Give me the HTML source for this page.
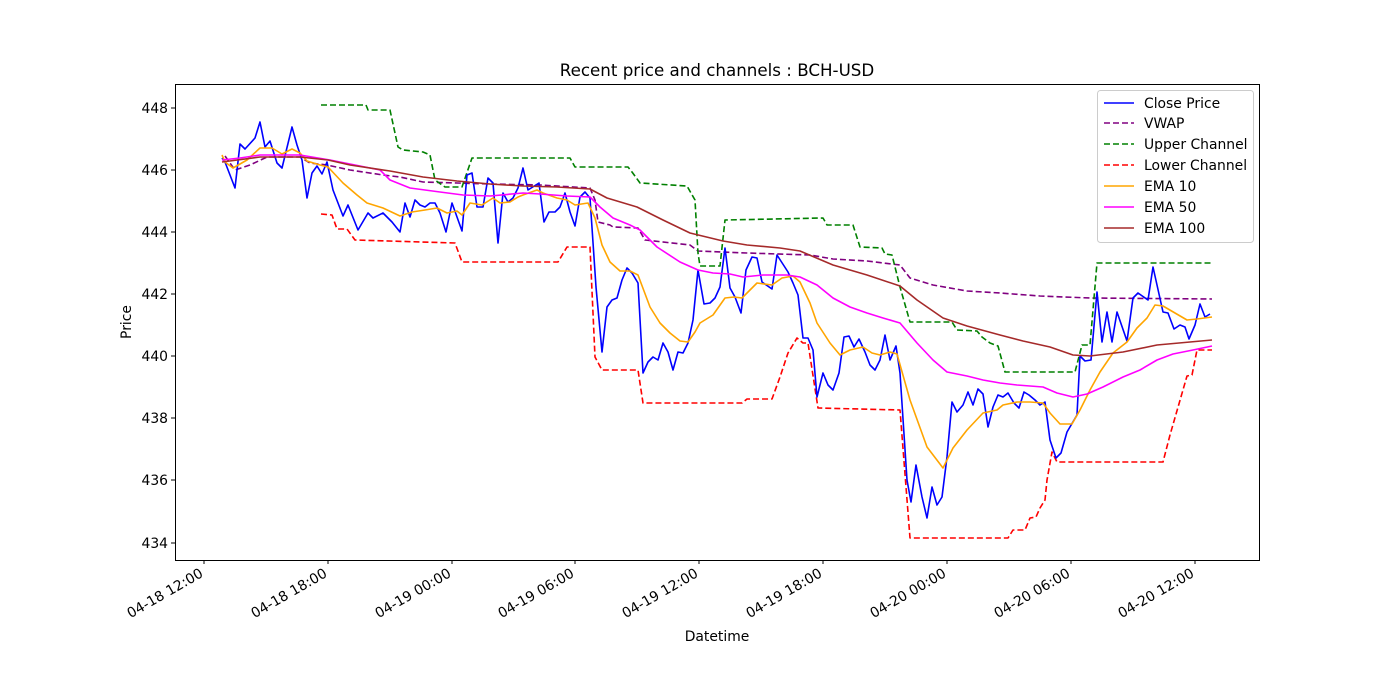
<!DOCTYPE html>
<html><head><meta charset="utf-8"><style>body{margin:0;background:#fff}svg{display:block;font-family:"DejaVu Sans","Liberation Sans",sans-serif}</style></head><body>
<svg width="1400" height="700" viewBox="0 0 1400 700" xmlns="http://www.w3.org/2000/svg">
<rect width="1400" height="700" fill="#fff"/>
<text x="717" y="76" font-size="16.7" text-anchor="middle">Recent price and channels : BCH-USD</text>
<g font-size="13.9" text-anchor="end">
<text x="168" y="113">448</text><text x="168" y="175">446</text><text x="168" y="237">444</text><text x="168" y="299">442</text><text x="168" y="361">440</text><text x="168" y="423">438</text><text x="168" y="485">436</text><text x="168" y="548">434</text>
</g>
<g stroke="#000" stroke-width="1">
<line x1="171" y1="108" x2="175" y2="108"/><line x1="171" y1="170" x2="175" y2="170"/><line x1="171" y1="232" x2="175" y2="232"/><line x1="171" y1="294" x2="175" y2="294"/><line x1="171" y1="356" x2="175" y2="356"/><line x1="171" y1="418" x2="175" y2="418"/><line x1="171" y1="480" x2="175" y2="480"/><line x1="171" y1="543" x2="175" y2="543"/>
<line x1="204" y1="560" x2="204" y2="564"/><line x1="328" y1="560" x2="328" y2="564"/><line x1="452" y1="560" x2="452" y2="564"/><line x1="575" y1="560" x2="575" y2="564"/><line x1="699" y1="560" x2="699" y2="564"/><line x1="823" y1="560" x2="823" y2="564"/><line x1="947" y1="560" x2="947" y2="564"/><line x1="1071" y1="560" x2="1071" y2="564"/><line x1="1195" y1="560" x2="1195" y2="564"/>
</g>
<g font-size="13.9" text-anchor="end">
<text transform="translate(204,576) rotate(-30)">04-18 12:00</text>
<text transform="translate(328,576) rotate(-30)">04-18 18:00</text>
<text transform="translate(452,576) rotate(-30)">04-19 00:00</text>
<text transform="translate(575,576) rotate(-30)">04-19 06:00</text>
<text transform="translate(699,576) rotate(-30)">04-19 12:00</text>
<text transform="translate(823,576) rotate(-30)">04-19 18:00</text>
<text transform="translate(947,576) rotate(-30)">04-20 00:00</text>
<text transform="translate(1071,576) rotate(-30)">04-20 06:00</text>
<text transform="translate(1195,576) rotate(-30)">04-20 12:00</text>
</g>
<text x="717" y="641" font-size="13.9" text-anchor="middle">Datetime</text>
<text transform="translate(131,322) rotate(-90)" font-size="13.9" text-anchor="middle">Price</text>
<g fill="none" stroke-width="1.6" stroke-linejoin="round">
<polyline stroke="#800080" stroke-dasharray="6,3" points="225,156 235,170 250,165 267,157 300,157 310,163 327,165 350,170 383,175 400,177 423,182 457,183 490,184 540,185 590,188 595,200 598,222 610,225 613,227 638,228 645,240 690,245 698,251 747,253 810,255 833,259 867,261 900,265 910,278 933,285 967,291 1000,293 1040,296 1090,298 1212,299"/>
<polyline stroke="#008000" stroke-dasharray="6,3" points="321,105 366,105 368,110 390,110 398,147 403,150 423,152 430,155 435,180 445,187 462,187 472,158 570,158 575,167 628,167 632,172 640,183 687,186 695,200 698,253 700,266 720,266 725,220 823,218 827,225 853,225 860,247 882,248 885,254 892,255 900,287 910,322 952,322 957,330 977,331 982,337 990,343 998,346 1005,372 1075,372 1082,345 1090,345 1097,263 1212,263"/>
<polyline stroke="#ff0000" stroke-dasharray="6,3" points="321,214 332,215 337,229 347,229 355,240 455,243 462,262 558,262 567,247 590,247 595,357 602,370 638,370 643,403 742,403 747,399 772,399 780,377 788,353 797,338 803,343 808,343 818,408 900,410 910,538 1008,538 1013,530 1025,530 1030,518 1036,517 1040,508 1045,500 1047,480 1052,452 1057,462 1163,462 1170,435 1187,376 1192,375 1197,350 1212,350"/>
<polyline stroke="#0000ff" points="222,158 225,162 235,188 240,144 245,149 255,138 260,122 265,147 270,141 277,163 282,168 292,127 297,145 302,160 307,198 312,173 317,166 322,174 327,162 333,190 343,216 348,205 358,230 368,213 373,218 383,213 392,222 400,232 405,203 410,217 415,200 420,205 425,207 430,203 435,203 440,213 446,232 452,203 462,231 467,175 472,173 477,207 483,207 488,178 493,183 498,243 503,193 508,202 513,198 518,188 523,168 528,190 539,183 544,222 549,212 555,212 560,207 565,193 570,212 575,226 580,197 585,192 590,198 596,287 602,352 607,307 612,300 617,298 622,280 627,268 632,273 638,283 643,373 648,362 653,357 658,360 663,343 668,352 673,370 678,352 683,353 688,343 693,320 698,270 704,304 710,303 715,298 720,287 725,248 730,288 735,297 741,313 746,270 752,257 757,258 762,282 772,289 777,255 788,272 793,283 798,295 803,338 808,338 813,350 817,397 823,373 828,385 833,390 839,373 844,337 849,336 854,347 859,339 865,352 870,365 875,370 880,360 885,335 890,360 896,346 900,373 907,480 911,502 916,465 922,497 927,518 932,487 937,505 942,497 947,457 952,402 957,412 963,405 968,392 973,405 978,389 983,394 988,427 993,407 998,395 1003,397 1008,393 1014,403 1019,408 1024,392 1029,395 1035,400 1040,405 1045,402 1050,440 1056,458 1061,453 1067,432 1077,415 1080,356 1085,361 1091,360 1097,292 1102,342 1107,312 1112,342 1117,312 1127,341 1133,298 1138,293 1148,300 1153,267 1163,312 1168,313 1174,329 1180,325 1185,327 1189,339 1195,325 1200,304 1205,317 1210,314"/>
<polyline stroke="#ffa500" points="222,155 225,162 233,168 247,160 260,148 272,148 282,154 292,149 300,153 307,161 320,165 328,167 343,183 357,195 367,203 383,208 400,216 412,212 425,210 437,208 447,213 457,211 462,215 470,203 482,205 493,198 500,203 510,202 518,197 523,195 537,190 543,193 557,198 567,200 575,205 588,203 595,218 602,245 610,262 620,271 630,271 638,275 650,307 660,323 670,333 680,341 688,342 695,332 700,323 713,315 725,298 734,297 742,298 757,283 772,285 782,278 793,276 800,282 810,303 817,323 830,343 840,355 850,350 863,347 872,353 880,355 890,352 897,354 910,400 927,447 943,468 953,448 967,430 983,413 997,410 1003,405 1017,402 1030,402 1043,403 1050,413 1060,424 1072,424 1080,410 1090,390 1100,372 1113,353 1127,342 1137,328 1147,318 1155,305 1163,306 1175,313 1187,320 1197,319 1212,317"/>
<polyline stroke="#ff00ff" points="222,160 240,158 260,155 300,155 330,160 380,170 390,180 410,188 440,192 463,195 490,196 523,193 540,194 567,196 590,197 600,207 613,218 630,225 640,230 657,247 680,262 698,270 713,273 730,274 743,277 763,275 787,275 800,277 817,285 833,298 850,307 867,313 883,318 900,323 917,343 933,360 947,372 967,376 983,380 1000,383 1017,385 1043,387 1057,393 1073,397 1087,394 1103,387 1123,377 1140,370 1157,360 1173,354 1193,350 1212,346"/>
<polyline stroke="#a52a2a" points="222,162 260,157 300,157 328,160 350,165 390,171 423,177 457,181 490,184 523,186 557,187 590,189 607,198 637,207 663,220 690,233 723,241 747,245 780,248 800,251 833,265 867,275 900,286 917,300 943,318 967,326 1000,335 1023,341 1050,347 1073,355 1090,356 1123,352 1157,345 1190,342 1212,340"/>
</g>
<rect x="175.5" y="84.5" width="1084" height="476" fill="none" stroke="#000" stroke-width="1"/>
<rect x="1097.5" y="90.5" width="156" height="152" rx="3" fill="#fff" fill-opacity="0.8" stroke="#ccc"/>
<g stroke-width="1.6">
<line x1="1104" y1="103" x2="1134" y2="103" stroke="#0000ff"/>
<line x1="1104" y1="123" x2="1134" y2="123" stroke="#800080" stroke-dasharray="6,3"/>
<line x1="1104" y1="144" x2="1134" y2="144" stroke="#008000" stroke-dasharray="6,3"/>
<line x1="1104" y1="165" x2="1134" y2="165" stroke="#ff0000" stroke-dasharray="6,3"/>
<line x1="1104" y1="186" x2="1134" y2="186" stroke="#ffa500"/>
<line x1="1104" y1="207" x2="1134" y2="207" stroke="#ff00ff"/>
<line x1="1104" y1="228" x2="1134" y2="228" stroke="#a52a2a"/>
</g>
<g font-size="13.9">
<text x="1144" y="108">Close Price</text><text x="1144" y="128">VWAP</text><text x="1144" y="149">Upper Channel</text><text x="1144" y="170">Lower Channel</text><text x="1144" y="191">EMA 10</text><text x="1144" y="212">EMA 50</text><text x="1144" y="233">EMA 100</text>
</g>
</svg>
</body></html>
